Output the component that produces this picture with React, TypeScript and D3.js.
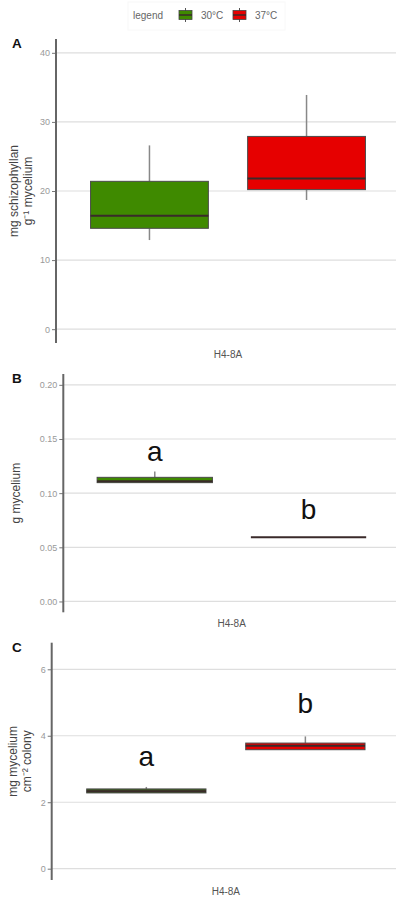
import React, { useEffect, useRef } from 'react';
import * as d3 from 'd3';

// groups (temperature)
const groups = ['30°C', '37°C'];
const strain = 'H4-8A';

// Panel A: mg schizophyllan g-1 mycelium
const aLow = [12.9, 18.7];
const aQ1 = [14.6, 20.2];
const aMed = [16.4, 21.8];
const aQ3 = [21.4, 27.9];
const aHigh = [26.6, 33.9];
const aTicks = [0, 10, 20, 30, 40];

// Panel B: g mycelium
const bLow = [0.1097, 0.0592];
const bQ1 = [0.1097, 0.0592];
const bMed = [0.1110, 0.0592];
const bQ3 = [0.1146, 0.0592];
const bHigh = [0.1199, 0.0592];
const bTicks = [0, 0.05, 0.1, 0.15, 0.2];
const bLetters = ['a', 'b'];
const bLetterY = [0.130, 0.0765];

// Panel C: mg mycelium cm-2 colony
const cLow = [2.28, 3.58];
const cQ1 = [2.28, 3.58];
const cMed = [2.33, 3.70];
const cQ3 = [2.40, 3.78];
const cHigh = [2.46, 3.98];
const cTicks = [0, 2, 4, 6];
const cLetters = ['a', 'b'];
const cLetterY = [3.10, 4.68];

const App = () => {
  const ref = useRef(null);

  useEffect(() => {
    const svg = d3.select(ref.current);
    svg.selectAll('*').remove();
    const font = 'Liberation Sans, Arial, sans-serif';

    const panels = [
      {
        tag: 'A', tagY: 48, left: 56, top: 39, bottom: 343,
        domain: [-2, 42], ticks: aTicks, fmt: d3.format('d'),
        low: aLow, q1: aQ1, med: aMed, q3: aQ3, high: aHigh,
        colors: ['#3f8a00', '#e60000'],
        ylab: ['mg schizophyllan', 'g\u207B\u00B9 mycelium'], ylabX: [15, 29],
        letters: null, letterY: null,
      },
      {
        tag: 'B', tagY: 383, left: 63.3, top: 374, bottom: 612.3,
        domain: [-0.01, 0.21], ticks: bTicks, fmt: d3.format('.2f'),
        low: bLow, q1: bQ1, med: bMed, q3: bQ3, high: bHigh,
        colors: ['#3f8a00', '#e60000'],
        ylab: ['g mycelium'], ylabX: [17],
        letters: bLetters, letterY: bLetterY,
      },
      {
        tag: 'C', tagY: 652, left: 51.7, top: 642.7, bottom: 880,
        domain: [-0.34, 6.8], ticks: cTicks, fmt: d3.format('d'),
        low: cLow, q1: cQ1, med: cMed, q3: cQ3, high: cHigh,
        colors: ['#3d5e1e', '#e60000'],
        ylab: ['mg mycelium', 'cm\u207B\u00B2 colony'], ylabX: [14, 28],
        letters: cLetters, letterY: cLetterY,
      },
    ];

    // legend
    const lg = svg.append('g');
    lg.append('rect').attr('x', 128).attr('y', 2).attr('width', 157).attr('height', 28)
      .attr('fill', '#fff').attr('stroke', '#f8f8f8');
    lg.append('text').attr('x', 133).attr('y', 19).attr('font-family', font)
      .attr('font-size', 10).attr('fill', '#666').text('legend');
    const keyX = [179, 233];
    const legendFill = ['#3f8a00', '#e60000'];
    groups.forEach((g, i) => {
      const k = lg.append('g').attr('transform', `translate(${keyX[i]},8)`);
      k.append('line').attr('x1', 6.5).attr('x2', 6.5).attr('y1', 0).attr('y2', 14)
        .attr('stroke', '#555').attr('stroke-width', 1);
      k.append('rect').attr('x', 0).attr('y', 2.5).attr('width', 13).attr('height', 9)
        .attr('fill', legendFill[i]).attr('stroke', '#444').attr('stroke-width', 0.8);
      k.append('line').attr('x1', 0).attr('x2', 13).attr('y1', 7).attr('y2', 7)
        .attr('stroke', '#3a2a2a').attr('stroke-width', 1.5);
      lg.append('text').attr('x', keyX[i] + 22).attr('y', 19).attr('font-family', font)
        .attr('font-size', 10).attr('fill', '#666').text(g);
    });

    panels.forEach(p => {
      const y = d3.scaleLinear().domain(p.domain).range([p.bottom, p.top]);
      const x = d3.scaleBand().domain(groups).range([p.left, 400])
        .paddingInner(0.25).paddingOuter(0.22);
      const g = svg.append('g');

      // grid
      g.selectAll('.grid').data(p.ticks).enter().append('line')
        .attr('x1', p.left).attr('x2', 400)
        .attr('y1', d => y(d)).attr('y2', d => y(d))
        .attr('stroke', '#dedede').attr('stroke-width', 1.2);

      // y axis
      const ax = g.append('g').attr('transform', `translate(${p.left},0)`)
        .call(d3.axisLeft(y).tickValues(p.ticks).tickFormat(p.fmt).tickSize(4).tickPadding(2));
      ax.select('path.domain').remove();
      ax.selectAll('line').attr('stroke', '#777');
      ax.selectAll('text').attr('fill', '#999').attr('font-family', font).attr('font-size', 9);
      g.append('line').attr('x1', p.left).attr('x2', p.left).attr('y1', p.top).attr('y2', p.bottom)
        .attr('stroke', '#666').attr('stroke-width', 2);

      // boxes
      groups.forEach((grp, i) => {
        const x0 = x(grp);
        const bw = x.bandwidth();
        const cx = x0 + bw / 2;
        g.append('line').attr('x1', cx).attr('x2', cx)
          .attr('y1', y(p.high[i])).attr('y2', y(p.q3[i]))
          .attr('stroke', '#888').attr('stroke-width', 1.5);
        g.append('line').attr('x1', cx).attr('x2', cx)
          .attr('y1', y(p.q1[i])).attr('y2', y(p.low[i]))
          .attr('stroke', '#888').attr('stroke-width', 1.5);
        g.append('rect').attr('x', x0).attr('width', bw)
          .attr('y', y(p.q3[i])).attr('height', y(p.q1[i]) - y(p.q3[i]))
          .attr('fill', p.colors[i]).attr('stroke', '#4a4a4a').attr('stroke-width', 1);
        g.append('line').attr('x1', x0).attr('x2', x0 + bw)
          .attr('y1', y(p.med[i])).attr('y2', y(p.med[i]))
          .attr('stroke', '#3a2a2a').attr('stroke-width', 2);
        if (p.letters) {
          g.append('text').attr('x', cx).attr('y', y(p.letterY[i]))
            .attr('text-anchor', 'middle').attr('font-family', font)
            .attr('font-size', 28).attr('fill', '#111').text(p.letters[i]);
        }
      });

      // x label
      g.append('text').attr('x', (p.left + 400) / 2).attr('y', p.bottom + 15)
        .attr('text-anchor', 'middle').attr('font-family', font)
        .attr('font-size', 10).attr('fill', '#555').text(strain);

      // y label
      const cy = (p.top + p.bottom) / 2;
      p.ylab.forEach((t, j) => {
        g.append('text').attr('transform', `translate(${p.ylabX[j]},${cy}) rotate(-90)`)
          .attr('text-anchor', 'middle').attr('dominant-baseline', 'middle')
          .attr('font-family', font).attr('font-size', 12).attr('fill', '#444').text(t);
      });

      // panel tag
      g.append('text').attr('x', 12).attr('y', p.tagY).attr('font-family', font)
        .attr('font-weight', 'bold').attr('font-size', 13.5).attr('fill', '#111').text(p.tag);
    });
  }, []);

  return (
    <div style={{ position: 'absolute', left: 0, top: 0 }}>
      <svg ref={ref} width={396} height={897} style={{ display: 'block', background: '#fff' }}></svg>
    </div>
  );
};

export default App;
